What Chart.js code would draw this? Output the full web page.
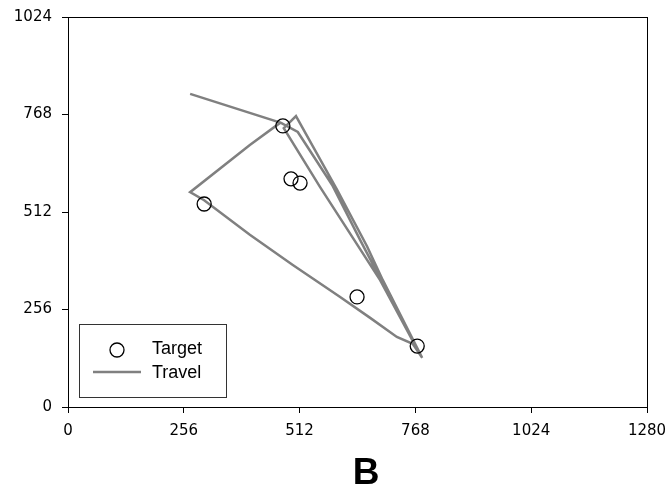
<!DOCTYPE html>
<html>
<head>
<meta charset="utf-8">
<title>Target / Travel</title>
<script src="https://cdn.jsdelivr.net/npm/chart.js@4.4.1/dist/chart.umd.min.js"></script>
<style>
    html, body { margin: 0; padding: 0; background: #fff; }
    #wrap { width: 672px; height: 496px; position: relative; }
</style>
</head>
<body>
<div id="wrap"><canvas id="chart" width="672" height="496"></canvas></div>
<script>
// --- Data ---
const xTicks = [0, 256, 512, 768, 1024, 1280];
const yTicks = [0, 256, 512, 768, 1024];

const targetX = [475, 493, 513, 301, 639, 772];
const targetY = [738, 599, 588, 533, 289, 160];

const travelX = [270, 471, 508, 531, 584, 646, 780, 690, 557, 477, 504, 542, 595, 661, 696, 783, 762, 727, 668, 600, 497, 402, 301, 270, 402, 471];
const travelY = [822, 746, 722, 680, 583, 438, 134, 333, 578, 732, 764, 683, 570, 422, 333, 129, 166, 184, 234, 290, 373, 452, 543, 564, 688, 748];

const seriesNames = ['Target', 'Travel'];
const panelLabel = 'B';

const toPoints = (xs, ys) => xs.map((x, i) => ({ x: x, y: ys[i] }));

// --- Plugins: frame, legend box and panel label ---
const framePlugin = {
    id: 'frame',
    afterDraw(chart) {
        const { ctx, chartArea } = chart;
        ctx.save();
        ctx.strokeStyle = '#000';
        ctx.lineWidth = 1;
        ctx.strokeRect(chartArea.left + 0.5, chartArea.top + 0.5, chartArea.right - chartArea.left, chartArea.bottom - chartArea.top);

        // legend box
        ctx.strokeStyle = '#333';
        ctx.strokeRect(79.5, 324.5, 147, 73);
        ctx.beginPath();
        ctx.arc(117, 350, 7, 0, Math.PI * 2);
        ctx.strokeStyle = '#000';
        ctx.lineWidth = 1.3;
        ctx.stroke();
        ctx.beginPath();
        ctx.moveTo(93, 372);
        ctx.lineTo(141, 372);
        ctx.strokeStyle = '#808080';
        ctx.lineWidth = 2.5;
        ctx.stroke();
        ctx.fillStyle = '#000';
        ctx.font = '18px "Liberation Sans", Arial, sans-serif';
        ctx.textBaseline = 'middle';
        ctx.textAlign = 'left';
        ctx.fillText(seriesNames[0], 152, 349);
        ctx.fillText(seriesNames[1], 152, 373);

        // panel label
        ctx.font = 'bold 37px "Liberation Sans", Arial, sans-serif';
        ctx.textAlign = 'center';
        ctx.fillText(panelLabel, 366, 474);
        ctx.restore();
    }
};

// --- Chart ---
const tickFont = { family: '"DejaVu Sans", sans-serif', size: 15 };
const plainLabel = v => String(v);

new Chart(document.getElementById('chart').getContext('2d'), {
    type: 'scatter',
    data: {
        datasets: [
            {
                label: seriesNames[0],
                data: toPoints(targetX, targetY),
                pointStyle: 'circle',
                pointRadius: 7,
                pointBorderWidth: 1.3,
                pointBorderColor: '#000',
                pointBackgroundColor: 'rgba(0,0,0,0)',
                showLine: false,
                order: 0
            },
            {
                label: seriesNames[1],
                data: toPoints(travelX, travelY),
                showLine: true,
                borderColor: '#808080',
                borderWidth: 2.5,
                pointRadius: 0,
                tension: 0,
                order: 1
            }
        ]
    },
    options: {
        responsive: false,
        animation: false,
        layout: { padding: { top: 17, right: 25, left: 0, bottom: 0 } },
        plugins: { legend: { display: false }, tooltip: { enabled: false } },
        scales: {
            x: {
                type: 'linear',
                min: 0,
                max: 1280,
                afterBuildTicks: axis => { axis.ticks = xTicks.map(v => ({ value: v })); },
                afterFit: axis => { axis.height = 89; axis.paddingLeft = 0; axis.paddingRight = 0; },
                grid: { drawOnChartArea: false, drawTicks: true, tickLength: 6, color: '#000' },
                border: { display: true, color: '#000', width: 1 },
                ticks: { color: '#000', font: tickFont, padding: 9, maxRotation: 0, callback: plainLabel }
            },
            y: {
                type: 'linear',
                min: 0,
                max: 1024,
                afterBuildTicks: axis => { axis.ticks = yTicks.map(v => ({ value: v })); },
                afterFit: axis => { axis.width = 68; axis.paddingTop = 0; axis.paddingBottom = 0; },
                grid: { drawOnChartArea: false, drawTicks: true, tickLength: 6, color: '#000' },
                border: { display: true, color: '#000', width: 1 },
                ticks: { color: '#000', font: tickFont, padding: 10, callback: plainLabel }
            }
        }
    },
    plugins: [framePlugin]
});
</script>
</body>
</html>
